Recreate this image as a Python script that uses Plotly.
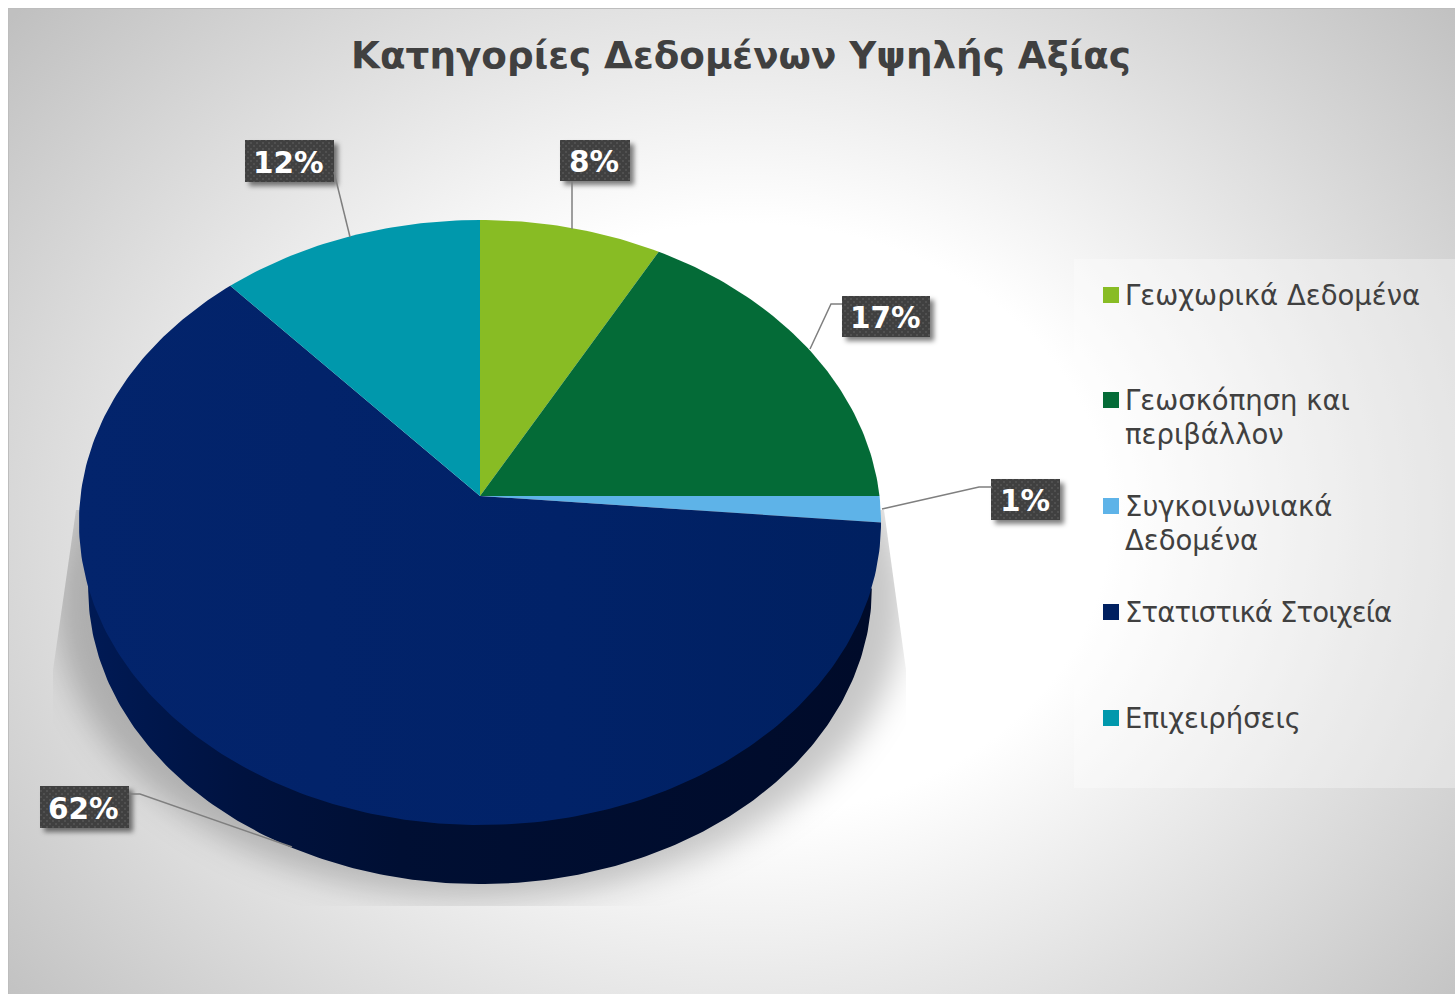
import base64
import numpy as np
import plotly.graph_objects as go

# ---- data ----
TITLE = "Κατηγορίες Δεδομένων Υψηλής Αξίας"
categories = ["Γεωχωρικά Δεδομένα", "Γεωσκόπηση και περιβάλλον", "Συγκοινωνιακά Δεδομένα",
              "Στατιστικά Στοιχεία", "Επιχειρήσεις"]
legend_lines = [["Γεωχωρικά Δεδομένα"], ["Γεωσκόπηση και", "περιβάλλον"], ["Συγκοινωνιακά", "Δεδομένα"],
                ['<span style="letter-spacing:-0.85px">Στατιστικά Στοιχεία</span>'], ["Επιχειρήσεις"]]
values = [8.0, 17.0, 1.4, 62.0, 11.6]
colors = ["#88BC24", "#046B37", "#5EB3E8", "#012268", "#0098AC"]

# ---- pie projection (perspective of a disc, page pixels) ----
CX, CY, B, A, K = 480.0, 496.0, 399.5, 300.2, -0.0876
DEPTH_DY, DEPTH_S = 66.6, 0.977


def project(theta, scale=1.0, dy=0.0):
    u, v = np.sin(theta), -np.cos(theta)
    d = 1 + K * v
    return CX + scale * B * u / d, CY + dy + scale * A * v / d


fracs = np.array(values) / sum(values)
edges = np.concatenate([[0], np.cumsum(fracs)]) * 2 * np.pi

# ---- background art: gradient, soft shadows, patterned label boxes ----
boxes = [(560, 140, 630, 181), (842, 296, 930, 337), (991, 479, 1060, 520),
         (40, 786, 129, 828), (245, 140, 334, 182)]
box_svg = "".join(
    f'<rect x="{a+4}" y="{b+4}" width="{c-a}" height="{d-b}" fill="#000" fill-opacity="0.5" filter="url(#bs)"/>'
    f'<rect x="{a}" y="{b}" width="{c-a}" height="{d-b}" fill="url(#dots)"/>'
    for a, b, c, d in boxes)
svg = f'''<svg xmlns="http://www.w3.org/2000/svg" width="1447" height="986" viewBox="8 8 1447 986">
<defs>
<radialGradient id="bg" gradientUnits="userSpaceOnUse" cx="0" cy="0" r="1" gradientTransform="translate(745 520) scale(960 780)">
<stop offset="0" stop-color="#fff"/><stop offset="0.38" stop-color="#fff"/><stop offset="1" stop-color="#c0c0c0"/>
</radialGradient>
<filter id="blur" x="-20%" y="-20%" width="140%" height="140%"><feGaussianBlur stdDeviation="16"/></filter>
<filter id="bs" x="-30%" y="-30%" width="160%" height="160%"><feGaussianBlur stdDeviation="2.5"/></filter>
<clipPath id="sc"><polygon points="76,510 53,670 53,906 906,906 906,670 884,510"/></clipPath>
<pattern id="dots" width="6" height="6" patternUnits="userSpaceOnUse">
<rect width="6" height="6" fill="#404040"/><rect x="1" y="1" width="2" height="2" fill="#505050"/><rect x="4" y="4" width="2" height="2" fill="#505050"/>
</pattern>
</defs>
<rect x="8" y="8" width="1447" height="986" fill="url(#bg)"/>
<rect x="8.5" y="8.5" width="1447" height="986" fill="none" stroke="#bdbdbd" stroke-width="1"/>
<rect x="1074" y="259" width="381" height="529" fill="#fff" fill-opacity="0.32"/>
<g clip-path="url(#sc)"><ellipse cx="480" cy="600" rx="425" ry="298" fill="#000" fill-opacity="0.22" filter="url(#blur)"/></g>
{box_svg}
</svg>'''
bg_uri = "data:image/svg+xml;base64," + base64.b64encode(svg.encode("utf-8")).decode()

fig = go.Figure()

# side wall of the big slice
t = np.linspace(edges[3], edges[4], 300)
sx, sy = project(t, DEPTH_S, DEPTH_DY)
fig.add_trace(go.Scatter(
    x=np.r_[sx, CX], y=np.r_[sy, CY + DEPTH_DY], mode="lines", fill="toself",
    line=dict(width=0), showlegend=False, hoverinfo="skip",
    fillgradient=dict(type="horizontal", start=88, stop=872,
                      colorscale=[[0, "#001A55"], [0.2, "#00123F"], [0.4, "#000F33"], [1, "#000B2A"]]),
))

# top faces
for i, (name, col) in enumerate(zip(categories, colors)):
    t = np.linspace(edges[i], edges[i + 1], max(8, int(400 * fracs[i])))
    px, py = project(t)
    kw = dict(fillcolor=col)
    if i == 3:
        kw = dict(fillgradient=dict(type="horizontal", start=78, stop=881,
                                    colorscale=[[0, "#03246C"], [0.6, "#012268"], [1, "#002060"]]))
    fig.add_trace(go.Scatter(
        x=np.r_[CX, px, CX], y=np.r_[CY, py, CY], mode="lines", fill="toself",
        line=dict(width=0), name=name, showlegend=False, hoverinfo="name", **kw))

# legend swatches
LEG_X = 1111
LEG_Y = [295, 400, 506, 612, 718]
fig.add_trace(go.Scatter(
    x=[LEG_X] * 5, y=LEG_Y, mode="markers", showlegend=False, hoverinfo="skip",
    marker=dict(symbol="square", size=16, color=["#88BC24", "#046B37", "#5EB3E8", "#002060", "#0098AC"],
                line=dict(width=0))))

annotations = []
for y, lines in zip(LEG_Y, legend_lines):
    for j, txt in enumerate(lines):
        annotations.append(dict(
            x=1123, y=y + j * 34, xref="x", yref="y", xanchor="left", yanchor="middle", align="left",
            text=txt, showarrow=False, font=dict(family="DejaVu Sans", size=27.5, color="#404040")))
for (a, b, c, d), v in zip(boxes, values):
    annotations.append(dict(
        x=(a + c) / 2 - 1, y=(b + d) / 2 + 1.5, xref="x", yref="y", xanchor="center", yanchor="middle",
        text=f"{v:.0f}%", showarrow=False, font=dict(family="DejaVu Sans", size=29.5, color="#FFFFFF", weight="bold")))

leaders = ["M572,181 L572,229", "M334,172 L350,237", "M842,304 L831,304 L810,349",
           "M992,487 L979,487 L882,509", "M129,794 L140,794 L292,847"]
shapes = [dict(type="path", path=p, xref="x", yref="y", line=dict(color="#7F7F7F", width=1.5)) for p in leaders]

fig.update_layout(
    width=1447, height=986, margin=dict(l=0, r=0, t=0, b=0, pad=0),
    paper_bgcolor="#FFFFFF", plot_bgcolor="rgba(0,0,0,0)",
    xaxis=dict(range=[8, 1455], visible=False, fixedrange=True),
    yaxis=dict(range=[994, 8], visible=False, fixedrange=True),
    title=dict(text=TITLE, x=(741 - 8) / 1447, xanchor="center", xref="paper",
               y=1 - (55 - 8) / 986, yanchor="middle", yref="container",
               font=dict(family="DejaVu Sans", size=37.3, color="#404040", weight="bold")),
    images=[dict(source=bg_uri, xref="paper", yref="paper", x=0, y=1, sizex=1, sizey=1,
                 xanchor="left", yanchor="top", sizing="stretch", layer="below")],
    annotations=annotations, shapes=shapes, showlegend=False,
)
fig.write_html("out.html", config=dict(displayModeBar=False), default_width="1447px", default_height="986px",
               post_script="document.documentElement.style.overflow='hidden';document.body.style.overflow='hidden';document.body.style.margin='8px 0 0 8px';document.body.style.width='1447px';")
